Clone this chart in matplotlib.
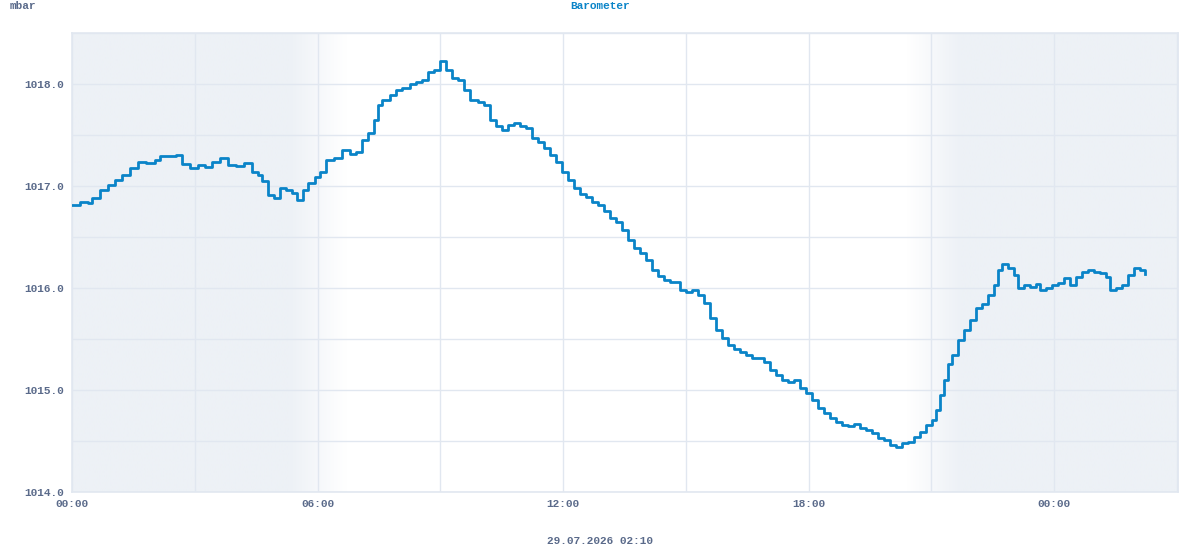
import matplotlib
matplotlib.use('Agg')
import matplotlib.pyplot as plt
import numpy as np
from matplotlib.colors import LinearSegmentedColormap

# minutes since 00:00 on 29.07 and pressure in mbar
minutes = [0, 12, 23, 29, 41, 53, 63, 73, 85, 97, 109, 122, 129, 141, 152, 161, 173, 185, 195, 205,
           217, 229, 240, 252, 264, 273, 279, 287, 296, 305, 314, 323, 330, 339, 346, 356, 364, 372, 384, 396,
           408, 416, 425, 434, 443, 449, 455, 466, 475, 484, 496, 504, 513, 522, 531, 540, 548, 557, 566, 575,
           584, 595, 604, 613, 622, 631, 639, 648, 657, 666, 674, 683, 692, 701, 710, 718, 727, 736, 745, 754,
           762, 771, 780, 789, 798, 806, 815, 824, 833, 842, 850, 859, 868, 877, 886, 892, 900, 909, 918, 927,
           935, 944, 953, 962, 971, 980, 988, 997, 1006, 1015, 1023, 1032, 1041, 1050, 1059, 1067, 1076, 1085, 1094, 1103,
           1111, 1120, 1129, 1138, 1147, 1155, 1164, 1173, 1182, 1191, 1199, 1208, 1217, 1226, 1235, 1243, 1252, 1261, 1267, 1273,
           1279, 1284, 1290, 1299, 1308, 1317, 1326, 1334, 1343, 1352, 1358, 1364, 1372, 1381, 1387, 1396, 1405, 1414, 1419, 1428,
           1437, 1446, 1455, 1463, 1472, 1481, 1490, 1499, 1507, 1516, 1522, 1531, 1540, 1548, 1557, 1566, 1573]
pressure = [1016.81, 1016.84, 1016.83, 1016.88, 1016.96, 1017.01, 1017.06, 1017.11, 1017.18, 1017.24,
            1017.23, 1017.25, 1017.29, 1017.29, 1017.30, 1017.22, 1017.18, 1017.21, 1017.19, 1017.24,
            1017.27, 1017.21, 1017.20, 1017.23, 1017.14, 1017.11, 1017.05, 1016.91, 1016.88, 1016.98,
            1016.96, 1016.93, 1016.86, 1016.96, 1017.03, 1017.09, 1017.14, 1017.25, 1017.27, 1017.35,
            1017.31, 1017.33, 1017.45, 1017.52, 1017.65, 1017.79, 1017.84, 1017.89, 1017.94, 1017.96,
            1018.00, 1018.02, 1018.04, 1018.12, 1018.14, 1018.23, 1018.14, 1018.06, 1018.04, 1017.94,
            1017.84, 1017.82, 1017.79, 1017.65, 1017.59, 1017.55, 1017.60, 1017.62, 1017.59, 1017.57,
            1017.47, 1017.43, 1017.37, 1017.30, 1017.24, 1017.14, 1017.06, 1016.98, 1016.92, 1016.89,
            1016.84, 1016.81, 1016.75, 1016.69, 1016.65, 1016.57, 1016.47, 1016.39, 1016.34, 1016.27,
            1016.18, 1016.12, 1016.08, 1016.06, 1016.06, 1015.98, 1015.96, 1015.98, 1015.93, 1015.85,
            1015.71, 1015.59, 1015.51, 1015.44, 1015.40, 1015.37, 1015.34, 1015.31, 1015.31, 1015.27,
            1015.20, 1015.15, 1015.10, 1015.08, 1015.10, 1015.02, 1014.97, 1014.90, 1014.82, 1014.77,
            1014.73, 1014.69, 1014.66, 1014.65, 1014.67, 1014.63, 1014.61, 1014.58, 1014.53, 1014.51,
            1014.46, 1014.44, 1014.48, 1014.49, 1014.54, 1014.59, 1014.66, 1014.71, 1014.80, 1014.95,
            1015.10, 1015.25, 1015.34, 1015.49, 1015.59, 1015.69, 1015.80, 1015.84, 1015.93, 1016.03,
            1016.18, 1016.24, 1016.20, 1016.13, 1016.00, 1016.03, 1016.01, 1016.04, 1015.98, 1016.00,
            1016.03, 1016.05, 1016.10, 1016.03, 1016.11, 1016.16, 1016.18, 1016.16, 1016.15, 1016.11,
            1015.98, 1016.00, 1016.03, 1016.13, 1016.20, 1016.18, 1016.14]

xtick_hours = [0, 6, 12, 18, 24]
xtick_labels = ['00:00', '06:00', '12:00', '18:00', '00:00']
ytick_vals = [1014.0, 1015.0, 1016.0, 1017.0, 1018.0]

# night shading: (full dark until, fully light at) and (light until, dark from)
dawn = (5.3, 6.7)
dusk = (20.4, 21.7)

line_col = '#0a84c8'
text_col = '#5a6a8a'
grid_col = '#e1e7f0'
night_col = '#edf1f6'

plt.rcParams['font.family'] = ['Liberation Mono', 'DejaVu Sans Mono']
plt.rcParams['font.weight'] = 'bold'

fig = plt.figure(figsize=(12, 5.5), dpi=100)
ax = fig.add_axes([0.06, 0.1055, 0.9217, 0.8345])

xmin, xmax = 0, 27.03
ymin, ymax = 1014.0, 1018.5

# background gradient
xs = np.linspace(xmin, xmax, 2000)
shade = np.ones_like(xs)
m = (xs > dawn[0]) & (xs < dawn[1])
shade[m] = 1 - (xs[m] - dawn[0]) / (dawn[1] - dawn[0])
shade[(xs >= dawn[1]) & (xs <= dusk[0])] = 0
m = (xs > dusk[0]) & (xs < dusk[1])
shade[m] = (xs[m] - dusk[0]) / (dusk[1] - dusk[0])
cmap = LinearSegmentedColormap.from_list('night', ['#ffffff', night_col])
ax.imshow(shade[np.newaxis, :], cmap=cmap, vmin=0, vmax=1, aspect='auto',
          extent=[xmin, xmax, ymin, ymax], zorder=0, interpolation='bilinear')

hours = np.array(minutes) / 60.0
ax.plot(hours, pressure, drawstyle='steps-post', color=line_col, lw=2.0, zorder=3)

ax.set_xlim(xmin, xmax)
ax.set_ylim(ymin, ymax)

ax.set_xticks(np.arange(0, 27.1, 3), minor=True)
ax.set_xticks(xtick_hours)
ax.set_xticklabels(xtick_labels)
ax.set_yticks(np.arange(1014.0, 1018.51, 0.5), minor=True)
ax.set_yticks(ytick_vals)
ax.set_yticklabels(['%.1f' % v for v in ytick_vals])

ax.grid(True, which='both', color=grid_col, lw=1.0, zorder=1)
ax.set_axisbelow(True)
ax.tick_params(which='both', length=0, labelsize=8, colors=text_col, pad=6)
ax.tick_params(axis='x', pad=5)
for lab in ax.get_xticklabels() + ax.get_yticklabels():
    lab.set_fontweight('bold')
for s in ax.spines.values():
    s.set_color(grid_col)
    s.set_linewidth(1.2)

fig.text(10 / 1200, 1 - 6 / 550, 'mbar', ha='left', va='center', fontsize=8,
         color=text_col, fontweight='bold')
fig.text(0.5, 1 - 6 / 550, 'Barometer', ha='center', va='center', fontsize=8,
         color=line_col, fontweight='bold')
fig.text(0.5, 1 - 541 / 550, '29.07.2026 02:10', ha='center', va='center', fontsize=8,
         color=text_col, fontweight='bold')

fig.savefig('out.png', dpi=100)
